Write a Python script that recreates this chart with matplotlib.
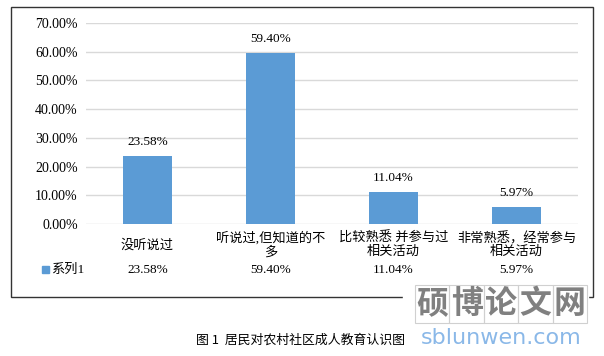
import matplotlib
matplotlib.use("Agg")
from matplotlib import pyplot as plt
from matplotlib.patches import Rectangle

# data
categories = ["没听说过", "听说过,但知道的不\n多", "比较熟悉 并参与过\n相关活动", "非常熟悉，经常参与\n相关活动"]
values = [0.2358, 0.5940, 0.1104, 0.0597]
value_labels = ["23.58%", "59.40%", "11.04%", "5.97%"]
series_name = "系列1"
yticks = [0.0, 0.1, 0.2, 0.3, 0.4, 0.5, 0.6, 0.7]
caption = "图 1  居民对农村社区成人教育认识图"

plt.rcParams['font.family'] = ['Liberation Serif', 'Noto Sans CJK SC']

W, H = 604, 356
fig = plt.figure(figsize=(W / 100, H / 100), dpi=100)

# outer chart frame
fig.patches.append(Rectangle((11 / W, 1 - 297 / H), (593 - 11) / W, (297 - 7) / H,
                             transform=fig.transFigure, fill=False,
                             edgecolor='#333333', linewidth=1.0))

ax = fig.add_axes([86 / W, 1 - 224 / H, (578 - 86) / W, (224 - 23) / H])
x = list(range(len(values)))
ax.bar(x, values, width=0.4, color='#5b9bd5', zorder=3)
ax.set_xlim(-0.5, len(values) - 0.5)
ax.set_ylim(0, 0.7)
ax.set_yticks(yticks)
ax.set_yticklabels(["%.2f%%" % (v * 100) for v in yticks], fontsize=10)
ax.tick_params(axis='y', length=0, pad=6)
ax.yaxis.grid(True, color='#d9d9d9', linewidth=1)
ax.set_axisbelow(True)
ax.set_xticks(x)
ax.set_xticklabels([])
ax.tick_params(axis='x', length=0)
for s in ax.spines.values():
    s.set_visible(False)

for xi, v, lab in zip(x, values, value_labels):
    ax.annotate(lab, (xi, v), xytext=(0, 6), textcoords='offset points',
                ha='center', va='bottom', fontsize=9.5)

# category labels and data table row
for xi, cat, lab in zip(x, categories, value_labels):
    xf = (86 + 123 * (xi + 0.5)) / W
    fig.text(xf, 1 - 245 / H, cat, ha='center', va='center', fontsize=9.5,
             linespacing=1.1)
    fig.text(xf, 1 - 270 / H, lab, ha='center', va='center', fontsize=9.5)

fig.patches.append(Rectangle((42 / W, 1 - 273 / H), 7 / W, 7 / H,
                             transform=fig.transFigure, color='#5b9bd5'))
fig.text(51 / W, 1 - 270 / H, series_name, ha='left', va='center', fontsize=9.5)

# caption
fig.text(301 / W, 1 - 340 / H, caption, ha='center', va='center', fontsize=9.3,
         family=['Noto Sans CJK SC'], fontweight='medium')

# watermark
fig.patches.append(Rectangle((403 / W, 1 - 325 / H), (588 - 403) / W, 42 / H,
                             transform=fig.transFigure, color='white', zorder=5))
for i, ch in enumerate("硕博论文网"):
    x0 = 415 + 34.4 * i
    fig.patches.append(Rectangle((x0 / W, 1 - 323 / H), 34.4 / W, 38 / H,
                                 transform=fig.transFigure, facecolor='none',
                                 edgecolor='#d0d0d0', linewidth=0.8, zorder=6))
    fig.text((x0 + 17.2) / W, 1 - 304 / H, ch, ha='center', va='center',
             fontsize=23, color='#808080', family=['Noto Sans CJK SC'],
             fontweight='bold', zorder=7)
fig.text(501 / W, 1 - 338 / H, "sblunwen.com", ha='center', va='center',
         fontsize=16, color='#8ab8e8', family=['DejaVu Sans'])

fig.savefig("out.png", dpi=100)
